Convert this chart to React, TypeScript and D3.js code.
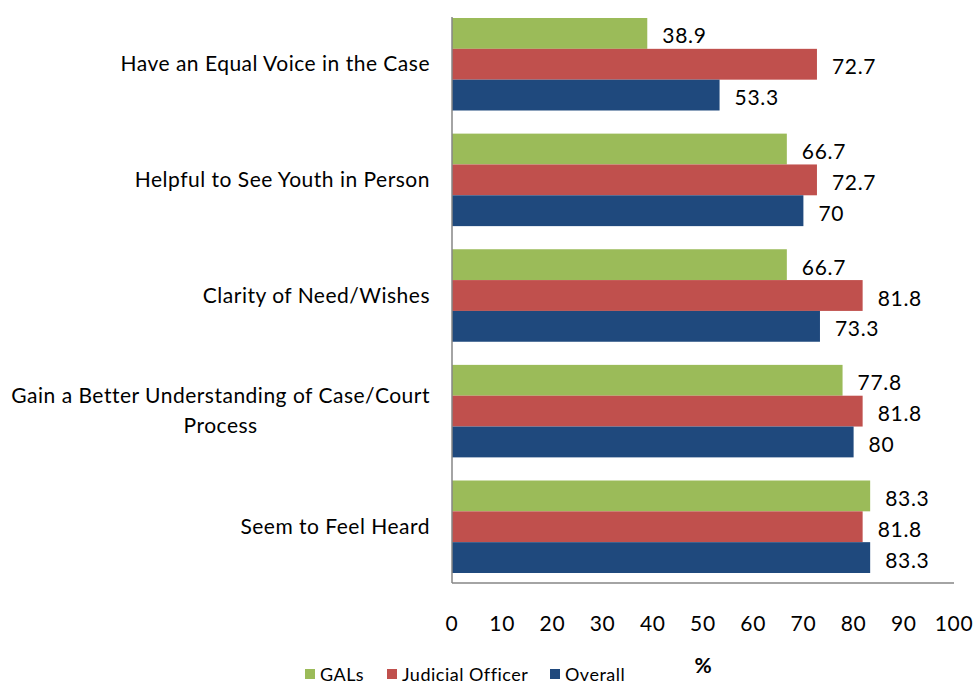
import React, { useRef, useEffect } from 'react';
import * as d3 from 'd3';

const categories = [
  'Have an Equal Voice in the Case',
  'Helpful to See Youth in Person',
  'Clarity of Need/Wishes',
  'Gain a Better Understanding of Case/Court Process',
  'Seem to Feel Heard',
];
const seriesNames = ['GALs', 'Judicial Officer', 'Overall'];
const galsValues = [38.9, 66.7, 66.7, 77.8, 83.3];
const judicialValues = [72.7, 72.7, 81.8, 81.8, 81.8];
const overallValues = [53.3, 70, 73.3, 80, 83.3];
const xTicks = [0, 10, 20, 30, 40, 50, 60, 70, 80, 90, 100];
const colors = ['#9BBB59', '#C0504D', '#1F497D'];

const FONT = 'Lato, "Open Sans", sans-serif';

const App = () => {
  const svgRef = useRef<SVGSVGElement>(null);

  useEffect(() => {
    const svg = d3.select(svgRef.current);
    svg.selectAll('*').remove();

    const series = [galsValues, judicialValues, overallValues];
    const rows = categories.map((c, i) => ({
      cat: c,
      vals: series.map((s, k) => ({ key: seriesNames[k], value: s[i], k })),
    }));

    const x = d3.scaleLinear().domain([0, 100]).range([452, 954]);
    const y = d3.scaleBand().domain(categories).range([18, 573]).paddingInner(0.2).paddingOuter(0);
    const y1 = d3.scaleBand().domain(seriesNames).range([0, y.bandwidth()]);

    // bars
    const groups = svg
      .selectAll('.grp')
      .data(rows)
      .enter()
      .append('g')
      .attr('transform', (d) => `translate(0,${y(d.cat)})`);

    groups
      .selectAll('rect')
      .data((d) => d.vals)
      .enter()
      .append('rect')
      .attr('x', x(0))
      .attr('y', (d) => y1(d.key)!)
      .attr('width', (d) => x(d.value) - x(0))
      .attr('height', y1.bandwidth())
      .style('fill', (d) => colors[d.k]);

    groups
      .selectAll('text')
      .data((d) => d.vals)
      .enter()
      .append('text')
      .attr('x', (d) => x(d.value) + 15)
      .attr('y', (d) => y1(d.key)! + y1.bandwidth() / 2 + 1.5)
      .attr('dominant-baseline', 'central')
      .style('font-family', FONT)
      .style('font-size', '21px')
      .style('letter-spacing', '0.7px')
      .style('fill', '#000')
      .text((d) => String(d.value));

    // axes lines
    svg
      .append('line')
      .attr('x1', x(0))
      .attr('x2', x(0))
      .attr('y1', 17)
      .attr('y2', 583)
      .style('stroke', '#868686')
      .style('stroke-width', 1.5);
    svg
      .append('line')
      .attr('x1', x(0))
      .attr('x2', x(100))
      .attr('y1', 583)
      .attr('y2', 583)
      .style('stroke', '#868686')
      .style('stroke-width', 1.5);

    // x tick labels
    svg
      .selectAll('.xt')
      .data(xTicks)
      .enter()
      .append('text')
      .attr('x', (d) => x(d))
      .attr('y', 622)
      .attr('text-anchor', 'middle')
      .attr('dominant-baseline', 'central')
      .style('font-family', FONT)
      .style('font-size', '21px')
      .style('letter-spacing', '0.7px')
      .text((d) => d);

    svg
      .append('text')
      .attr('x', 703)
      .attr('y', 664)
      .attr('text-anchor', 'middle')
      .attr('dominant-baseline', 'central')
      .style('font-family', FONT)
      .style('font-size', '21px')
      .style('font-weight', 'bold')
      .text('%');

    // category labels, wrapped when too long
    const labelRight = 430;
    const maxW = 425;
    rows.forEach((r) => {
      const cy = y(r.cat)! + y.bandwidth() / 2 - 2;
      const t = svg
        .append('text')
        .style('font-family', FONT)
        .style('font-size', '21px')
        .style('letter-spacing', '0.5px')
        .attr('dominant-baseline', 'central');
      const words = r.cat.split(' ');
      const lines: string[] = [];
      let line: string[] = [];
      words.forEach((w) => {
        line.push(w);
        t.text(line.join(' '));
        if ((t.node() as SVGTextElement).getComputedTextLength() > maxW && line.length > 1) {
          line.pop();
          lines.push(line.join(' '));
          line = [w];
        }
      });
      lines.push(line.join(' '));
      t.text(null);
      if (lines.length === 1) {
        t.append('tspan').attr('x', labelRight).attr('y', cy).attr('text-anchor', 'end').text(lines[0]);
      } else {
        // centre the lines inside a block that ends at labelRight
        const widths = lines.map((l) => {
          t.text(l);
          return (t.node() as SVGTextElement).getComputedTextLength();
        });
        t.text(null);
        const bw = d3.max(widths)!;
        const cx = labelRight - bw / 2;
        const lh = 30;
        lines.forEach((l, i) => {
          t.append('tspan')
            .attr('x', cx)
            .attr('y', cy + (i - (lines.length - 1) / 2) * lh)
            .attr('text-anchor', 'middle')
            .text(l);
        });
      }
    });

    // legend
    const legendX = [305, 387, 550];
    const legend = svg.append('g').attr('class', 'legend');
    seriesNames.forEach((n, i) => {
      legend
        .append('rect')
        .attr('x', legendX[i])
        .attr('y', 669)
        .attr('width', 10)
        .attr('height', 10)
        .style('fill', colors[i]);
      legend
        .append('text')
        .attr('x', legendX[i] + 15)
        .attr('y', 674)
        .attr('dominant-baseline', 'central')
        .style('font-family', FONT)
        .style('font-size', '18px')
        .style('letter-spacing', '0.5px')
        .text(n);
    });
  }, []);

  return (
    <svg
      ref={svgRef}
      width={977}
      height={685}
      style={{ position: 'absolute', left: 0, top: 0, background: '#fff' }}
    ></svg>
  );
};

export default App;
